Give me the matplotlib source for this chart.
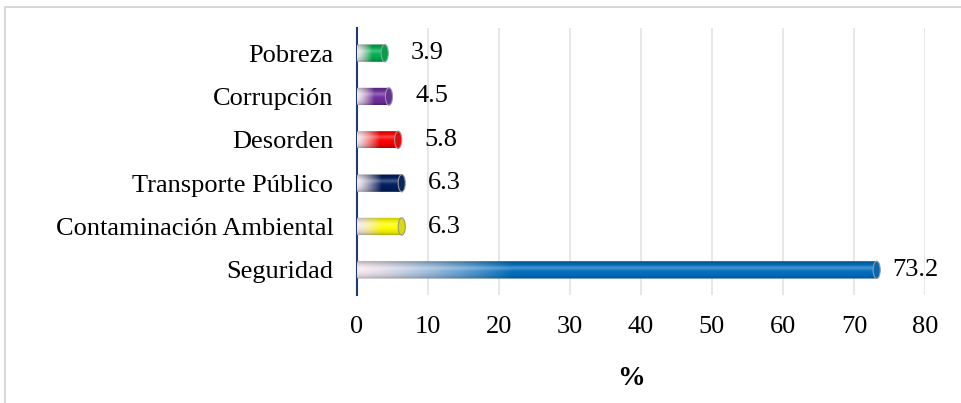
import numpy as np
import matplotlib.pyplot as plt
from matplotlib.colors import to_rgb
from matplotlib.patches import Ellipse, Rectangle, FancyBboxPatch

categories = ['Seguridad', 'Contaminación Ambiental', 'Transporte Público',
              'Desorden', 'Corrupción', 'Pobreza']
values = [73.2, 6.3, 6.3, 5.8, 4.5, 3.9]
colors = ['#0070c0', '#ffff00', '#002060', '#ff0000', '#7030a0', '#00b050']
xticks = [0, 10, 20, 30, 40, 50, 60, 70, 80]

plt.rcParams['font.family'] = ['Liberation Serif', 'DejaVu Serif']

fig = plt.figure(figsize=(9.61, 4.03), dpi=100)
ax = fig.add_axes([0.3715, 0.268, 0.591, 0.6625])

# outer chart border (light gray)
fig.patches.append(Rectangle((5 / 961, -0.05), 1.2, 1 - 7 / 403 + 0.05,
                             transform=fig.transFigure, fill=False,
                             edgecolor='#d0d0d0', linewidth=1.2, zorder=0))

bar_h = 0.40
light = np.array(to_rgb('#f7e9ee'))


def gradient_bar(ax, y, value, color):
    c = np.array(to_rgb(color))
    nx, ny = 300, 40
    x = np.linspace(0, 1, nx)
    frac = 0.30 if value > 20 else 0.55
    t = np.clip(x / frac, 0, 1) ** 1.3
    row = light[None, :] * (1 - t[:, None]) + c[None, :] * t[:, None]
    v = np.linspace(0, 1, ny)
    shade = 0.68 + 0.32 * np.sin(np.pi * v) ** 0.6
    hi = 0.25 * np.exp(-((v - 0.62) / 0.12) ** 2)
    img = row[None, :, :] * shade[:, None, None]
    img = img + hi[:, None, None] * (1 - img)
    img = np.clip(img, 0, 1)
    im = ax.imshow(img, extent=(0, value, y - bar_h / 2, y + bar_h / 2),
                   origin='lower', aspect='auto', zorder=3,
                   interpolation='bilinear')
    clip = FancyBboxPatch((0, y - bar_h / 2), value, bar_h,
                          boxstyle='round,pad=0,rounding_size=0.05',
                          transform=ax.transData, facecolor='none',
                          edgecolor='none')
    ax.add_patch(clip)
    im.set_clip_path(clip)
    cap = Ellipse((value, y), 1.0, bar_h, facecolor=c * 0.8 + 0.05,
                  edgecolor=(0.6, 0.6, 0.6), linewidth=0.8, zorder=4)
    ax.add_patch(cap)


ypos = np.arange(len(categories))
for yi, val, col in zip(ypos, values, colors):
    gradient_bar(ax, yi, val, col)
    off = 11 if val > 50 else 19
    ax.annotate(f'{val}', xy=(val, yi), xytext=(off, 0),
                textcoords='offset points', va='center', ha='left',
                fontsize=19, zorder=5)

ax.set_xlim(0, 80)
ax.set_ylim(-0.58, 5.58)
ax.set_xticks(xticks)
ax.set_yticks(ypos)
ax.set_yticklabels(categories)
ax.tick_params(axis='both', length=0, labelsize=19)
ax.tick_params(axis='y', pad=17)
ax.tick_params(axis='x', pad=15)
ax.grid(axis='x', color='#e3e3e3', linewidth=1.2, zorder=0)
ax.set_axisbelow(True)
for s in ['top', 'right', 'bottom']:
    ax.spines[s].set_visible(False)
ax.spines['left'].set_color('#1f3a6e')
ax.spines['left'].set_linewidth(1.5)
ax.set_xlabel('%', fontsize=20, fontweight='bold', labelpad=20, x=0.482)

fig.savefig('out.png', dpi=100)
